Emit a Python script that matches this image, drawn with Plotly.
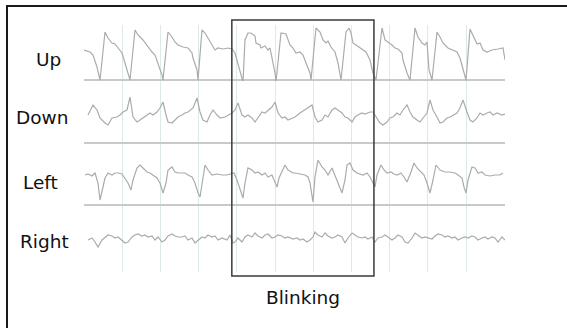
import plotly.graph_objects as go

# ---------------- data (EEG-like traces, sample index @ FS Hz, amplitude in arbitrary µV) ----
FS = 38.2  # samples per second

up_samples = [0, 6, 9, 13, 16, 21, 24, 28, 31, 34, 38, 41, 44, 46, 51, 54, 59, 64, 68, 71, 74, 78, 79,
              84, 88, 91, 94, 99, 104, 108, 109, 113, 114, 118, 121, 124, 128, 131, 134, 139, 144, 148,
              151, 159, 161, 164, 167, 171, 172, 176, 177, 181, 184, 186, 187, 191, 192, 197, 202, 206,
              209, 212, 216, 219, 222, 226, 227, 232, 236, 239, 242, 244, 247, 251, 254, 257, 262, 265,
              267, 269, 272, 276, 279, 282, 286, 289, 292, 298, 301, 304, 308, 311, 314, 318, 319, 323,
              326, 331, 334, 338, 341, 343, 345, 348, 353, 356, 359, 364, 369, 373, 376, 379, 382, 386,
              389, 393, 396, 399, 403, 408, 414, 419, 421]
up_amp = [30, 28, 25, 13, 0, 48, 42, 37, 36, 32, 27, 17, 7, 0, 50, 45, 40, 33, 28, 25, 17, 5, 0,
          48, 43, 38, 35, 33, 32, 27, 22, 10, 0, 50, 47, 42, 35, 30, 32, 31, 32, 31,
          27, -2, 40, 47, 47, 44, 37, 35, 32, 34, 30, 32, 27, 7, -2, 47, 46, 35,
          32, 27, 28, 25, 17, 7, 0, 52, 48, 40, 37, 39, 33, 28, 17, 0, 48, 52,
          47, 37, 35, 32, 30, 28, 20, 7, 0, 52, 40, 38, 35, 32, 31, 27, 20, 7,
          0, 52, 43, 37, 35, 38, 10, 0, 48, 43, 37, 32, 30, 28, 22, 10, 0, 51,
          45, 36, 37, 30, 28, 30, 31, 32, 20]

down_samples = [4, 9, 13, 16, 21, 24, 28, 33, 36, 39, 43, 46, 49, 53, 56, 59, 63, 66, 69, 73, 76, 79,
                82, 84, 88, 91, 94, 98, 101, 104, 109, 113, 116, 119, 123, 126, 129, 133, 136, 141,
                144, 148, 151, 154, 158, 161, 164, 168, 171, 174, 178, 181, 184, 188, 191, 194, 198,
                201, 204, 209, 211, 216, 221, 224, 228, 231, 234, 238, 241, 244, 248, 251, 254, 258,
                261, 264, 268, 271, 274, 278, 281, 286, 289, 293, 296, 299, 303, 306, 309, 313, 316,
                319, 323, 326, 329, 333, 336, 339, 343, 346, 349, 353, 356, 359, 363, 366, 369, 373,
                376, 379, 383, 386, 389, 393, 396, 399, 403, 406, 409, 413, 418, 421]
down_amp = [28, 38, 33, 25, 20, 18, 25, 26, 28, 31, 33, 46, 26, 21, 23, 25, 28, 30, 28, 31, 35, 41,
            28, 21, 20, 23, 26, 28, 30, 31, 35, 45, 31, 23, 21, 28, 33, 28, 25, 26,
            28, 30, 33, 40, 28, 26, 28, 25, 21, 25, 31, 30, 33, 36, 41, 30, 25,
            26, 23, 25, 26, 30, 33, 35, 38, 26, 21, 23, 28, 26, 33, 35, 33, 30,
            26, 25, 21, 26, 28, 30, 29, 31, 31, 25, 20, 18, 21, 25, 26, 30, 28,
            33, 38, 31, 26, 23, 21, 25, 30, 43, 33, 26, 20, 21, 25, 26, 28, 30,
            35, 43, 31, 23, 21, 25, 30, 28, 30, 31, 28, 30, 28, 29]

left_samples = [1, 4, 8, 11, 14, 16, 19, 21, 24, 28, 31, 34, 38, 41, 44, 47, 49, 53, 56, 59, 63, 66,
                69, 73, 76, 79, 82, 84, 88, 91, 94, 98, 101, 104, 108, 111, 114, 116, 119, 121, 124,
                128, 133, 138, 143, 148, 150, 153, 156, 159, 161, 164, 168, 171, 174, 178, 181, 184,
                188, 191, 193, 195, 198, 201, 204, 209, 211, 216, 221, 224, 226, 229, 231, 234, 238,
                241, 244, 248, 251, 254, 258, 261, 263, 266, 269, 273, 276, 279, 283, 286, 289, 291,
                293, 297, 300, 303, 307, 310, 313, 317, 320, 323, 327, 330, 333, 337, 340, 343, 346,
                349, 352, 356, 361, 366, 371, 374, 378, 380, 382, 384, 388, 391, 394, 398, 401, 406,
                411, 416, 419]
left_amp = [30, 31, 29, 32, 22, 5, 18, 27, 32, 30, 32, 32, 31, 27, 22, 15, 25, 37, 40, 37, 33, 32,
            30, 27, 22, 12, 22, 35, 38, 33, 32, 32, 32, 30, 28, 22, 12, 8, 28, 40, 35,
            30, 31, 30, 30, 32, 32, 25, 15, 7, 22, 37, 35, 32, 33, 30, 32, 28,
            30, 22, 18, 27, 33, 40, 35, 32, 32, 31, 30, 28, 22, 3, 28, 45, 38,
            35, 30, 37, 30, 22, 12, 25, 40, 42, 35, 32, 31, 30, 32, 28, 22, 18,
            30, 40, 35, 32, 33, 31, 30, 32, 28, 23, 33, 42, 37, 33, 30, 22, 12,
            25, 40, 35, 33, 33, 32, 30, 27, 18, 12, 25, 38, 37, 32, 33, 30, 29,
            30, 30, 32]

right_samples = [4, 8, 11, 14, 18, 21, 24, 28, 31, 34, 38, 41, 44, 48, 51, 54, 58, 61, 64, 68, 71, 74,
                 78, 81, 84, 88, 91, 94, 98, 101, 104, 108, 111, 114, 118, 121, 124, 128, 131, 134,
                 138, 143, 146, 149, 151, 154, 158, 161, 164, 168, 171, 174, 178, 181, 184, 188, 191,
                 194, 198, 201, 204, 209, 213, 216, 219, 223, 226, 229, 231, 234, 238, 241, 244, 248,
                 251, 254, 258, 261, 264, 268, 271, 274, 278, 281, 284, 288, 291, 294, 298, 301, 304,
                 308, 311, 314, 318, 321, 324, 328, 331, 334, 338, 341, 344, 348, 351, 354, 358, 361,
                 364, 368, 371, 374, 378, 381, 384, 388, 391, 394, 398, 401, 404, 408, 411, 414, 418,
                 421]
right_amp = [27, 29, 25, 20, 27, 30, 32, 31, 29, 30, 27, 24, 25, 30, 32, 33, 31, 32, 30, 31, 27, 30,
             25, 27, 31, 33, 31, 30, 30, 31, 27, 29, 24, 27, 30, 29, 32, 30, 31, 27,
             29, 27, 32, 24, 25, 29, 25, 30, 32, 30, 34, 31, 29, 32, 33, 29, 30,
             32, 31, 29, 30, 28, 29, 27, 28, 25, 27, 30, 35, 32, 30, 34, 31, 29,
             30, 32, 30, 24, 29, 34, 32, 30, 29, 30, 28, 30, 25, 29, 30, 32, 30,
             27, 29, 32, 30, 25, 24, 29, 34, 32, 29, 30, 29, 28, 31, 33, 32, 30,
             31, 29, 30, 27, 29, 30, 29, 31, 30, 27, 29, 30, 28, 30, 29, 25, 30,
             27]

row_labels = ["Up", "Down", "Left", "Right"]
blink_interval_s = [3.87, 7.59]
blink_label = "Blinking"

# ---------------- layout helpers ----------------
W, H = 567, 328


def py(px):
    return 1 - px / H


rows = [
    # samples, amps, top px, bottom px, y-range, baseline line, label x px, label y px
    (up_samples, up_amp, 25, 81, [-1, 55], True, 48.5, 59),
    (down_samples, down_amp, 81, 143.5, [-0.5, 62], True, 41.5, 117),
    (left_samples, left_amp, 143.5, 205.5, [-0.5, 61.5], True, 40.5, 182),
    (right_samples, right_amp, 205.5, 272, [-5, 61.5], False, 44, 241),
]

LABEL_FONT = dict(family="DejaVu Sans", size=18.5, color="#111111")

fig = go.Figure()
layout_axes = {}
annotations = []
for i, (smp, amp, top, bot, yr, base, lx, ly) in enumerate(rows):
    yname = "y" if i == 0 else f"y{i + 1}"
    fig.add_trace(go.Scatter(
        x=[s / FS for s in smp], y=amp, mode="lines",
        line=dict(color="#ababab", width=1.2),
        xaxis="x", yaxis=yname, hoverinfo="skip", showlegend=False))
    layout_axes["yaxis" if i == 0 else f"yaxis{i + 1}"] = dict(
        domain=[py(bot), py(top)], range=yr, anchor="x",
        showgrid=False, showticklabels=False, ticks="", showline=False,
        zeroline=base, zerolinecolor="#c9c9c9", zerolinewidth=1.6, fixedrange=True)
    annotations.append(dict(
        text=row_labels[i], x=lx / W, y=py(ly), xref="paper", yref="paper",
        xanchor="center", yanchor="middle", showarrow=False, font=LABEL_FONT))

annotations.append(dict(
    text=blink_label, x=(blink_interval_s[0] + blink_interval_s[1]) / 2, y=py(297),
    xref="x", yref="paper", xanchor="center", yanchor="middle", showarrow=False,
    font=LABEL_FONT))

fig.update_layout(
    width=W, height=H, margin=dict(l=0, r=0, t=0, b=0),
    paper_bgcolor="white", plot_bgcolor="white",
    xaxis=dict(domain=[84 / W, 505 / W], range=[0, 421 / FS], anchor="y",
               showgrid=True, gridcolor="#dcece2", gridwidth=1, tick0=0, dtick=1,
               showticklabels=False, ticks="", zeroline=False, showline=False, fixedrange=True),
    annotations=annotations,
    shapes=[
        dict(type="rect", xref="paper", yref="paper", x0=7 / W, x1=1.2, y0=-0.2, y1=py(6),
             line=dict(color="#1a1a1a", width=2), fillcolor="rgba(0,0,0,0)"),
        dict(type="rect", xref="x", yref="paper", x0=blink_interval_s[0], x1=blink_interval_s[1],
             y0=py(276), y1=py(20), line=dict(color="#3a3a3a", width=1.5),
             fillcolor="rgba(0,0,0,0)"),
    ],
    **layout_axes,
)

fig.write_html(
    "out.html",
    config={"displayModeBar": False, "staticPlot": True},
    post_script="document.body.style.margin='0';document.body.style.overflow='hidden';",
)
